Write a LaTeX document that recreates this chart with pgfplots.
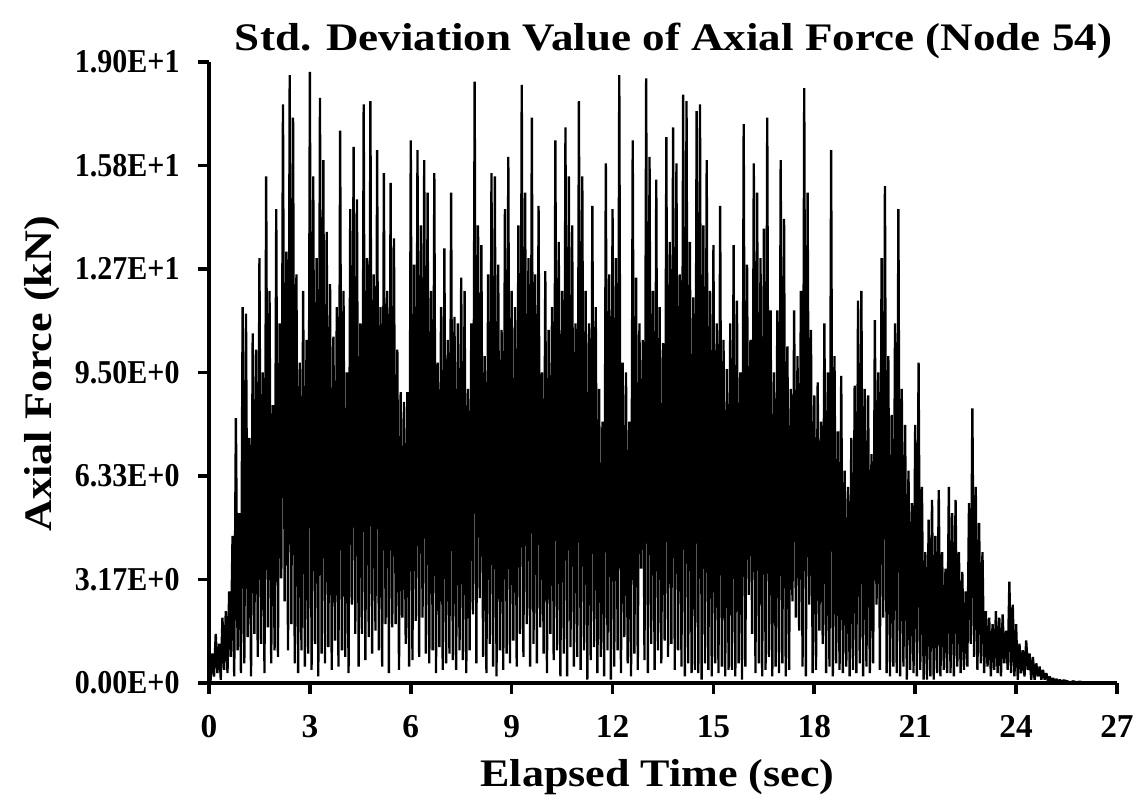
\documentclass[border=0pt]{standalone}
\usepackage{fontspec}
\setmainfont{Liberation Serif}
\usepackage{graphicx}
\usepackage{pgfplots}
\pgfplotsset{compat=1.18}
\newcommand{\tl}[1]{\scalebox{0.9}[1]{#1}}
\begin{document}
\begin{tikzpicture}
\begin{axis}[
  at={(0,0)}, anchor=south west,
  width=272.4pt, height=186.3pt, scale only axis,
  xmin=0, xmax=27, ymin=0, ymax=19,
  axis x line*=bottom, axis y line*=left,
  axis line style={line width=1.2pt, black},
  xtick={0,3,...,27},
  ytick={0,3.1667,6.3333,9.5,12.6667,15.8333,19},
  yticklabels={\tl{0.00E+0},\tl{3.17E+0},\tl{6.33E+0},\tl{9.50E+0},\tl{1.27E+1},\tl{1.58E+1},\tl{1.90E+1}},
  minor y tick num=1,
  tick align=outside,
  major tick length=3.3pt,
  minor tick length=1.2pt,
  every tick/.style={black, line width=1.1pt},
  /pgf/number format/assume math mode=true,
  ticklabel style={font=\bfseries\fontsize{10}{11}\selectfont},
  xticklabel style={anchor=base, yshift=-13.2pt},
  yticklabel style={anchor=east, xshift=-2pt},
  title={\scalebox{1.155}[1]{Std. Deviation Value of Axial Force (Node 54)}},
  title style={at={(axis description cs:0.5116,1)}, anchor=base, yshift=-2.7pt, font=\bfseries\fontsize{11.7}{13}\selectfont},
  xlabel={\scalebox{1.13}[1]{Elapsed Time (sec)}},
  xlabel style={at={(axis description cs:0.494,0)}, anchor=base, yshift=-31pt, font=\bfseries\fontsize{11.7}{13}\selectfont},
  ylabel={\scalebox{1.13}[1]{Axial Force (kN)}},
  ylabel style={at={(axis description cs:-0.173,0.498)}, anchor=base, font=\bfseries\fontsize{11.7}{13}\selectfont},
]
\addplot[black, line width=0.7pt, line join=bevel] coordinates {
(0,0)(0.05,0.1)(0.1,0.9)(0.15,0.2)(0.2,1.5)(0.25,0.3)(0.3,1.2)(0.35,0.1)(0.4,2.0)(0.45,0.4)
(0.5,2.2)(0.55,0.3)(0.6,2.8)(0.65,0.8)(0.7,4.5)(0.75,0.2)(0.8,8.1)(0.85,1.0)(0.9,5.2)(0.95,0.3)
(1.0,11.5)(1.05,0.6)(1.1,11.3)(1.15,1.4)(1.2,7.5)(1.25,0.2)(1.3,10.7)(1.35,1.5)(1.4,10.2)(1.45,0.8)
(1.5,13.0)(1.55,1.2)(1.6,9.5)(1.65,0.3)(1.7,15.5)(1.75,1.7)(1.8,12.0)(1.85,0.6)(1.9,8.5)(1.95,1.0)
(2.0,14.5)(2.05,0.8)(2.1,11.0)(2.15,3.2)(2.2,17.7)(2.25,2.5)(2.3,13.2)(2.35,1.0)(2.4,18.6)(2.45,1.8)
(2.5,17.3)(2.55,0.6)(2.6,12.5)(2.65,0.3)(2.7,9.8)(2.75,1.0)(2.8,12.0)(2.85,0.5)(2.9,10.5)(2.95,0.9)
(3.0,18.7)(3.05,0.4)(3.1,15.5)(3.15,1.2)(3.2,13.0)(3.25,0.2)(3.3,17.9)(3.35,0.9)(3.4,16.0)(3.45,0.6)
(3.5,13.8)(3.55,1.1)(3.6,12.2)(3.65,0.4)(3.7,10.6)(3.75,1.3)(3.8,11.5)(3.85,0.5)(3.9,16.9)(3.95,1.0)
(4.0,12.0)(4.05,0.8)(4.1,9.5)(4.15,0.3)(4.2,14.5)(4.25,2.4)(4.3,16.4)(4.35,1.5)(4.4,14.8)(4.45,0.5)
(4.5,11.0)(4.55,1.5)(4.6,17.7)(4.65,0.7)(4.7,13.0)(4.75,1.4)(4.8,17.8)(4.85,0.9)(4.9,12.5)(4.95,1.6)
(5.0,16.3)(5.05,1.0)(5.1,11.5)(5.15,0.5)(5.2,15.6)(5.25,1.8)(5.3,12.0)(5.35,0.3)(5.4,15.3)(5.45,1.7)
(5.5,13.6)(5.55,1.8)(5.6,10.2)(5.65,0.4)(5.7,8.9)(5.75,2.0)(5.8,8.6)(5.85,1.2)(5.9,8.9)(5.95,0.5)
(6.0,16.6)(6.05,0.7)(6.1,12.8)(6.15,1.9)(6.2,16.3)(6.25,0.8)(6.3,14.0)(6.35,2.0)(6.4,16.0)(6.45,0.9)
(6.5,15.0)(6.55,0.6)(6.6,12.0)(6.65,1.0)(6.7,15.6)(6.75,0.3)(6.8,9.8)(6.85,1.1)(6.9,11.5)(6.95,0.4)
(7.0,13.3)(7.05,0.6)(7.1,10.5)(7.15,0.9)(7.2,15.0)(7.25,0.7)(7.3,11.2)(7.35,0.4)(7.4,11.0)(7.45,1.0)
(7.5,12.4)(7.55,0.7)(7.6,12.0)(7.65,0.3)(7.7,9.0)(7.75,1.0)(7.8,11.0)(7.85,2.1)(7.9,18.4)(7.95,0.6)
(8.0,14.0)(8.05,2.6)(8.1,13.4)(8.15,0.8)(8.2,10.0)(8.25,0.3)(8.3,12.5)(8.35,1.2)(8.4,15.6)(8.45,0.5)
(8.5,15.5)(8.55,0.2)(8.6,12.8)(8.65,1.0)(8.7,10.8)(8.75,0.4)(8.8,14.5)(8.85,0.9)(8.9,16.1)(8.95,0.6)
(9.0,12.0)(9.05,1.3)(9.1,11.5)(9.15,0.5)(9.2,14.0)(9.25,1.5)(9.3,18.3)(9.35,0.8)(9.4,15.0)(9.45,1.8)
(9.5,13.0)(9.55,0.5)(9.6,17.3)(9.65,1.2)(9.7,12.5)(9.75,0.6)(9.8,14.6)(9.85,1.7)(9.9,9.5)(9.95,0.9)
(10.0,12.6)(10.05,0.3)(10.1,10.8)(10.15,1.5)(10.2,11.5)(10.25,0.7)(10.3,16.6)(10.35,1.0)(10.4,13.5)(10.45,0.2)
(10.5,12.0)(10.55,0.9)(10.6,17.0)(10.65,0.2)(10.7,15.5)(10.75,1.1)(10.8,14.0)(10.85,0.5)(10.9,11.0)(10.95,0.8)
(11.0,17.8)(11.05,0.4)(11.1,15.5)(11.15,1.0)(11.2,12.0)(11.25,0.1)(11.3,11.0)(11.35,0.7)(11.4,14.6)(11.45,1.1)
(11.5,11.5)(11.55,0.3)(11.6,9.0)(11.65,0.8)(11.7,8.0)(11.75,0.2)(11.8,15.9)(11.85,1.0)(11.9,12.5)(11.95,0.1)
(12.0,14.5)(12.05,0.5)(12.1,13.0)(12.15,1.0)(12.2,18.6)(12.25,0.3)(12.3,9.8)(12.35,1.4)(12.4,9.5)(12.45,0.6)
(12.5,8.0)(12.55,0.2)(12.6,16.6)(12.65,0.9)(12.7,12.4)(12.75,0.4)(12.8,11.0)(12.85,3.5)(12.9,10.5)(12.95,0.7)
(13.0,18.5)(13.05,0.3)(13.1,16.1)(13.15,1.2)(13.2,12.0)(13.25,0.4)(13.3,15.4)(13.35,1.0)(13.4,11.5)(13.45,0.6)
(13.5,10.4)(13.55,1.3)(13.6,16.7)(13.65,0.8)(13.7,13.5)(13.75,1.2)(13.8,17.0)(13.85,0.4)(13.9,15.9)(13.95,1.0)
(14.0,12.5)(14.05,0.5)(14.1,18.0)(14.15,0.2)(14.2,17.8)(14.25,0.6)(14.3,13.5)(14.35,0.3)(14.4,11.8)(14.45,0.4)
(14.5,17.5)(14.55,0.3)(14.6,17.7)(14.65,0.1)(14.7,14.0)(14.75,0.6)(14.8,16.0)(14.85,0.4)(14.9,12.0)(14.95,0.2)
(15.0,13.4)(15.05,0.6)(15.1,11.0)(15.15,0.3)(15.2,14.6)(15.25,0.5)(15.3,10.5)(15.35,0.2)(15.4,9.6)(15.45,0.4)
(15.5,11.0)(15.55,0.4)(15.6,13.4)(15.65,0.2)(15.7,11.7)(15.75,0.6)(15.8,9.5)(15.85,0.1)(15.9,17.1)(15.95,0.5)
(16.0,12.8)(16.05,2.7)(16.1,10.5)(16.15,1.5)(16.2,15.9)(16.25,0.3)(16.3,15.0)(16.35,0.6)(16.4,13.0)(16.45,0.2)
(16.5,13.9)(16.55,0.4)(16.6,17.3)(16.65,0.8)(16.7,11.4)(16.75,0.2)(16.8,9.5)(16.85,0.5)(16.9,11.4)(16.95,0.3)
(17.0,16.0)(17.05,0.6)(17.1,14.2)(17.15,0.2)(17.2,10.3)(17.25,0.4)(17.3,9.0)(17.35,2.5)(17.4,11.4)(17.45,2.0)
(17.5,10.0)(17.55,1.6)(17.6,12.0)(17.65,0.5)(17.7,18.2)(17.75,0.2)(17.8,15.0)(17.85,2.4)(17.9,10.8)(17.95,0.3)
(18.0,8.8)(18.05,0.4)(18.1,9.2)(18.15,1.6)(18.2,8.0)(18.25,1.2)(18.3,11.0)(18.35,0.3)(18.4,9.5)(18.45,0.5)
(18.5,16.3)(18.55,0.2)(18.6,10.0)(18.65,0.6)(18.7,7.7)(18.75,0.4)(18.8,9.4)(18.85,0.3)(18.9,6.5)(18.95,0.5)
(19.0,6.0)(19.05,0.2)(19.1,7.5)(19.15,0.4)(19.2,9.1)(19.25,0.3)(19.3,11.7)(19.35,0.6)(19.4,12.0)(19.45,0.2)
(19.5,9.0)(19.55,0.5)(19.6,8.8)(19.65,0.3)(19.7,7.0)(19.75,0.6)(19.8,11.1)(19.85,2.4)(19.9,9.5)(19.95,0.4)
(20.0,13.0)(20.05,2.0)(20.1,15.2)(20.15,0.3)(20.2,10.0)(20.25,0.2)(20.3,8.2)(20.35,0.5)(20.4,11.0)(20.45,0.3)
(20.5,14.5)(20.55,0.2)(20.6,9.0)(20.65,0.5)(20.7,7.9)(20.75,0.1)(20.8,6.5)(20.85,0.4)(20.9,5.5)(20.95,0.3)
(21.0,7.9)(21.05,0.2)(21.1,9.8)(21.15,0.4)(21.2,6.0)(21.25,0.1)(21.3,4.0)(21.35,0.1)(21.4,5.0)(21.45,0.2)
(21.5,5.6)(21.55,0.1)(21.6,4.5)(21.65,0.3)(21.7,5.9)(21.75,0.2)(21.8,4.0)(21.85,0.4)(21.9,3.5)(21.95,0.3)
(22.0,6.0)(22.05,0.3)(22.1,5.2)(22.15,0.2)(22.2,5.6)(22.25,0.5)(22.3,4.0)(22.35,0.3)(22.4,3.4)(22.45,0.4)
(22.5,2.8)(22.55,0.5)(22.6,5.5)(22.65,1.2)(22.7,8.4)(22.75,0.8)(22.8,6.0)(22.85,0.4)(22.9,4.9)(22.95,0.6)
(23.0,4.0)(23.05,0.3)(23.1,2.2)(23.15,0.5)(23.2,2.0)(23.25,0.2)(23.3,1.8)(23.35,0.4)(23.4,2.2)(23.45,0.3)
(23.5,2.0)(23.55,0.2)(23.6,2.1)(23.65,0.6)(23.7,1.6)(23.75,0.4)(23.8,3.1)(23.85,0.3)(23.9,2.4)(23.95,0.2)
(24.0,1.8)(24.05,0.1)(24.1,1.2)(24.15,0.3)(24.2,1.0)(24.25,0.2)(24.3,1.3)(24.35,0.4)(24.4,0.9)(24.45,0.1)
(24.5,0.8)(24.55,0.1)(24.6,0.6)(24.65,0.2)(24.7,0.5)(24.75,0.1)(24.8,0.4)(24.85,0.1)(24.9,0.3)(24.95,0.05)
(25.0,0.2)(25.05,0.05)(25.1,0.15)(25.15,0.04)(25.2,0.12)(25.25,0.03)(25.3,0.1)(25.35,0.03)(25.4,0.08)(25.5,0.06)
(25.6,0.02)(25.7,0.05)(25.8,0.02)(25.9,0.04)(26.0,0.01)
};
\end{axis}
\path[use as bounding box] (-62.7pt,-36.3pt) rectangle (280.8pt,204.9pt);
\end{tikzpicture}
\end{document}
